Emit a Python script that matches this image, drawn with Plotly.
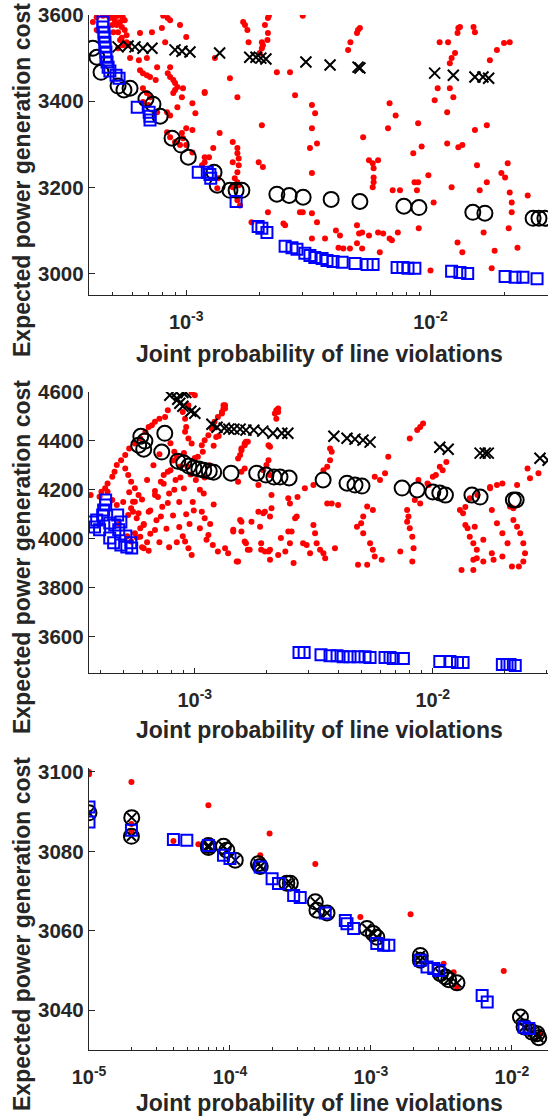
import plotly.graph_objects as go

# ---------------- Panel 1 data ----------------
p1_red_x = [4.56e-4, 4.79e-4, 5.03e-4, 5.26e-4, 5.5e-4, 5.6e-4, 5.36e-4, 5.2e-4, 5.45e-4, 5.6e-4, 5.26e-4, 5.7e-4,
            5.45e-4, 5.7e-4, 5.5e-4, 5.26e-4, 5.78e-4, 4.87e-4, 4.98e-4, 5.1e-4, 5.03e-4, 5.36e-4, 4.3e-4, 4.15e-4, 4.3e-4,
            8.05e-4, 8.4e-4, 8.59e-4, 7.95e-4, 9.43e-4, 7.24e-4, 6.47e-4, 1.0e-3, 8.2e-4, 5.89e-4, 6.4e-4, 6.9e-4,
            7.6e-4, 6.47e-4, 6.65e-4, 6.9e-4, 7.11e-4, 7.5e-4, 8.59e-4, 8.4e-4, 8.59e-4, 8.85e-4, 9.0e-4, 9.2e-4,
            9.0e-4, 8.85e-4, 9.7e-4, 9.6e-4, 6.65e-4, 6.9e-4, 7.11e-4, 6.65e-4, 7.0e-4, 7.6e-4, 8.35e-4, 8.59e-4,
            9.2e-4, 1.06e-3, 1.09e-3, 1.19e-3, 1.51e-3, 1.62e-3, 1.37e-3, 1.55e-3, 1.62e-3, 1.62e-3, 1.64e-3, 1.55e-3,
            1.64e-3, 1.62e-3, 1.58e-3, 1.64e-3, 1.62e-3, 1.66e-3, 1.0e-3, 1.06e-3, 9.6e-4, 9.7e-4, 1.0e-3, 1.06e-3,
            1.29e-3, 1.24e-3, 1.19e-3, 1.16e-3, 1.35e-3, 1.34e-3, 1.85e-3, 8.35e-4, 8.59e-4, 9.0e-4, 9.43e-4,
            1.19e-3, 1.31e-3, 1.19e-3, 1.62e-3, 1.55e-3, 1.71e-3, 1.74e-3, 1.78e-3, 1.8e-3, 2.04e-3, 2.06e-3, 2.04e-3,
            2.0e-3, 2.15e-3, 2.18e-3, 2.16e-3, 2.1e-3, 2.16e-3, 2.35e-3, 2.66e-3, 2.04e-3, 1.98e-3, 2.06e-3, 2.16e-3,
            2.5e-3, 2.54e-3, 3.0e-3, 2.79e-3, 3.27e-3, 3.37e-3, 3.27e-3, 3.43e-3, 3.21e-3, 3.27e-3, 2.92e-3, 3.0e-3,
            3.27e-3, 3.43e-3, 3.27e-3, 3.7e-3, 4.1e-3, 4.26e-3, 4.4e-3, 4.2e-3, 4.68e-3, 5.0e-3, 5.1e-3, 5.25e-3,
            4.6e-3, 4.7e-3, 5.0e-3, 5.05e-3, 5.14e-3, 5.3e-3, 5.6e-3, 5.8e-3, 5.85e-3, 5.85e-3, 5.85e-3, 5.8e-3,
            6.1e-3, 5.0e-3, 5.25e-3, 5.6e-3, 6.1e-3, 6.4e-3, 6.8e-3, 6.95e-3, 6.2e-3, 6.8e-3, 7.2e-3, 6.7e-3, 7.0e-3,
            7.5e-3, 7.35e-3, 8.6e-3, 8.9e-3, 8.8e-3, 8.95e-3, 8.9e-3, 9.2e-3, 8.5e-3, 9.8e-3, 1.03e-2, 1.0e-2,
            1.04e-2, 1.07e-2, 1.2e-2, 1.24e-2, 1.17e-2, 1.17e-2, 1.3e-2, 1.35e-2, 1.09e-2, 1.18e-2, 1.2e-2, 1.22e-2,
            1.26e-2, 1.29e-2, 1.3e-2, 1.32e-2, 1.5e-2, 1.52e-2, 1.52e-2, 1.55e-2, 1.22e-2, 1.29e-2, 1.35e-2, 1.59e-2,
            1.7e-2, 1.7e-2, 1.75e-2, 1.65e-2, 1.83e-2, 1.78e-2, 1.87e-2, 2.0e-2, 2.11e-2, 1.95e-2, 2.02e-2, 2.07e-2,
            2.11e-2, 2.15e-2, 2.15e-2, 2.09e-2, 2.27e-2, 2.5e-2]
p1_red_y = [3598, 3598, 3597, 3598, 3595, 3588, 3584, 3577, 3572, 3565, 3560, 3553,
            3547, 3537, 3530, 3523, 3530, 3593, 3577, 3588, 3560, 3542, 3595, 3584, 3565,
            3598, 3593, 3588, 3570, 3577, 3560, 3558, 3549, 3537, 3500, 3495, 3500,
            3479, 3472, 3465, 3460, 3456, 3449, 3479, 3465, 3456, 3449, 3442, 3433,
            3426, 3419, 3430, 3409, 3430, 3419, 3409, 3398, 3391, 3374, 3374, 3367,
            3386, 3395, 3372, 3419, 3453, 3409, 3326, 3305, 3291, 3279, 3267, 3258,
            3251, 3235, 3221, 3205, 3170, 3158, 3337, 3333, 3326, 3314, 3298, 3281,
            3291, 3270, 3258, 3251, 3221, 3198, 3119, 3328, 3316, 3305, 3298,
            3421, 3500, 3270, 3212, 3200, 3584, 3577, 3565, 3537, 3537, 3530, 3523,
            3512, 3542, 3598, 3593, 3577, 3558, 3467, 3467, 3344, 3258, 3247, 3142,
            3116, 3112, 3598, 3414, 3391, 3372, 3337, 3302, 3291, 3233, 3142, 3142,
            3140, 3119, 3081, 3081, 3100, 3088, 3058, 3060, 3058, 3070, 3093, 3058,
            3519, 3537, 3558, 3565, 3570, 3316, 3263, 3256, 3244, 3223, 3212, 3200,
            3263, 3112, 3095, 3088, 3095, 3093, 3081, 3077, 3049, 3395, 3367, 3337, 3193,
            3193, 3095, 3212, 3212, 3193, 3105, 3349, 3295, 3279, 3228, 3165, 3007,
            3402, 3430, 3430, 3409, 3374, 3302, 3293, 3298, 3537, 3537, 3488, 3500,
            3512, 3558, 3570, 3572, 3572, 3560, 3333, 3251, 3200, 3072, 3049, 3193,
            3212, 3344, 3495, 3095, 3053, 3012, 3519, 3535, 3537, 3233, 3223, 3256,
            3188, 3165, 3142, 3105, 3060, 3181]

p1_circ_x = [4.15e-4, 4.31e-4, 4.48e-4, 5.26e-4, 5.56e-4, 5.89e-4, 6.84e-4, 7.31e-4, 7.82e-4, 8.75e-4, 9.53e-4,
             1.02e-3, 1.30e-3, 1.34e-3, 1.51e-3, 1.60e-3, 1.69e-3, 2.35e-3, 2.64e-3, 3.01e-3, 3.92e-3, 5.14e-3,
             7.78e-3, 8.97e-3, 1.49e-2, 1.67e-2, 2.63e-2, 2.78e-2, 2.94e-2]
p1_circ_y = [3523, 3502, 3467, 3435, 3426, 3430, 3405, 3393, 3365, 3314, 3298,
             3270, 3235, 3205, 3193, 3193, 3193, 3184, 3181, 3177, 3172, 3167,
             3156, 3153, 3142, 3140, 3128, 3128, 3128]

p1_cross_x = [5.26e-4, 5.78e-4, 6.17e-4, 6.65e-4, 7.24e-4, 9.00e-4, 9.61e-4, 1.036e-3, 1.37e-3, 1.82e-3, 1.93e-3,
              2.02e-3, 2.12e-3, 3.09e-3, 3.88e-3, 5.05e-3, 5.14e-3, 1.04e-2, 1.24e-2, 1.52e-2, 1.64e-2, 1.73e-2]
p1_cross_y = [3526, 3528, 3526, 3523, 3523, 3519, 3516, 3514, 3512, 3502, 3502,
              3500, 3498, 3491, 3484, 3479, 3477, 3465, 3460, 3456, 3456, 3453]

p1_sq_x = [4.56e-4, 4.56e-4, 4.61e-4, 4.61e-4, 4.65e-4, 4.65e-4, 4.69e-4, 4.69e-4, 4.74e-4, 4.79e-4, 4.87e-4,
           5.16e-4, 5.31e-4, 6.30e-4, 7.05e-4, 7.11e-4, 7.11e-4, 1.12e-3, 1.22e-3, 1.25e-3, 1.26e-3, 1.60e-3,
           1.97e-3, 2.04e-3, 2.14e-3, 2.54e-3, 2.71e-3, 2.84e-3, 3.06e-3, 3.21e-3, 3.36e-3, 3.60e-3, 3.77e-3,
           3.99e-3, 4.35e-3, 4.91e-3, 5.50e-3, 5.82e-3, 7.30e-3, 7.71e-3, 8.09e-3, 8.63e-3, 1.22e-2, 1.32e-2,
           1.42e-2, 2.02e-2, 2.22e-2, 2.39e-2, 2.73e-2]
p1_sq_y = [3584, 3572, 3560, 3549, 3537, 3526, 3514, 3502, 3491, 3479, 3470,
           3460, 3453, 3386, 3374, 3365, 3356, 3235, 3235, 3230, 3221, 3167,
           3109, 3105, 3095, 3063, 3060, 3056, 3047, 3042, 3037, 3035, 3030,
           3028, 3026, 3023, 3021, 3021, 3014, 3014, 3012, 3012, 3005, 3002,
           3000, 2993, 2991, 2991, 2988]

# ---------------- Panel 2 data ----------------
p2_red_x = [9.7e-4, 1.0e-3, 9.4e-4, 8.9e-4, 9.1e-4, 9.2e-4, 9.1e-4, 9.4e-4, 9.7e-4, 7.7e-4, 7.5e-4, 7.1e-4,
            6.8e-4, 6.6e-4, 6.4e-4, 6.2e-4, 5.9e-4, 5.6e-4, 5.3e-4, 5.1e-4, 4.9e-4, 4.7e-4, 4.6e-4, 4.5e-4,
            4.3e-4, 4.2e-4, 4.05e-4, 1.32e-3, 1.34e-3, 1.30e-3, 1.25e-3, 1.21e-3, 1.18e-3, 1.14e-3, 1.10e-3,
            1.07e-3, 1.08e-3, 1.03e-3, 1.0e-3, 9.3e-4, 9.6e-4, 8.7e-4, 9.0e-4, 8.2e-4, 8.6e-4, 7.7e-4, 8.1e-4,
            7.2e-4, 7.6e-4, 6.8e-4, 7.1e-4, 6.3e-4, 9.0e-4, 8.4e-4, 8.7e-4, 7.9e-4, 8.3e-4, 7.4e-4, 7.8e-4,
            7.0e-4, 7.3e-4, 6.5e-4, 6.9e-4, 6.1e-4, 6.5e-4, 5.7e-4, 6.0e-4, 5.1e-4, 5.25e-4, 5.4e-4, 5.6e-4,
            5.8e-4, 5.6e-4, 5.4e-4, 5.25e-4, 5.7e-4, 6.1e-4, 6.4e-4, 6.8e-4, 7.2e-4, 7.7e-4, 8.2e-4, 1.01e-3,
            1.05e-3, 1.09e-3, 9.8e-4, 9.9e-4, 9.2e-4, 9.5e-4, 8.6e-4, 8.9e-4, 9.1e-4, 9.4e-4, 9.7e-4, 1.07e-3,
            1.10e-3, 1.05e-3, 1.14e-3, 1.19e-3, 1.25e-3, 1.34e-3, 1.45e-3, 1.57e-3, 1.73e-3, 1.85e-3, 1.97e-3,
            2.1e-3, 2.1e-3, 1.85e-3, 1.52e-3, 1.57e-3, 1.62e-3, 1.67e-3, 2.04e-3, 2.07e-3, 2.2e-3, 2.24e-3,
            1.5e-3, 1.38e-3, 1.62e-3, 1.67e-3, 1.9e-3, 2.07e-3, 2.24e-3, 2.3e-3, 2.4e-3, 1.52e-3, 1.57e-3,
            1.62e-3, 3.65e-4, 3.98e-4, 4.3e-4, 4.5e-4, 4.7e-4, 5.5e-4, 5.8e-4, 5.9e-4, 5.6e-4, 5.9e-4, 6.1e-4,
            5.4e-4, 1.34e-3, 1.32e-3, 1.30e-3, 1.23e-3, 1.55e-3, 1.57e-3, 1.62e-3, 1.64e-3, 1.45e-3, 1.55e-3,
            1.57e-3, 1.64e-3, 1.70e-3, 1.52e-3, 2.2e-3, 2.24e-3, 2.17e-3, 2.07e-3, 2.04e-3, 2.0e-3, 1.94e-3,
            1.94e-3, 2.07e-3, 1.88e-3, 1.9e-3, 1.97e-3, 2.04e-3, 2.07e-3, 2.47e-3, 2.51e-3, 2.68e-3, 2.64e-3,
            2.47e-3, 2.55e-3, 2.6e-3, 2.51e-3, 2.9e-3, 3.15e-3, 3.47e-3, 3.6e-3, 3.7e-3, 3.76e-3, 3.7e-3,
            3.15e-3, 3.2e-3, 3.25e-3, 3.36e-3, 3.47e-3, 3.53e-3, 3.88e-3, 3.6e-3, 3.76e-3, 4.0e-3, 2.85e-3,
            2.95e-3, 3.05e-3, 8.0e-3, 8.6e-3, 8.85e-3, 9.1e-3, 6.0e-3, 6.3e-3, 6.5e-3, 5.7e-3, 5.3e-3, 5.1e-3,
            5.0e-3, 4.8e-3, 5.1e-3, 5.45e-3, 5.6e-3, 5.7e-3, 6.1e-3, 4.85e-3, 5.3e-3, 5.6e-3, 7.8e-3, 7.9e-3,
            7.8e-3, 8.0e-3, 8.2e-3, 8.3e-3, 8.2e-3, 7.3e-3, 8.7e-3, 9.5e-3, 1.0e-2, 1.07e-2, 1.14e-2, 8.4e-3,
            8.85e-3, 1.3e-2, 1.34e-2, 1.37e-2, 1.4e-2, 1.43e-2, 1.48e-2, 1.53e-2, 1.53e-2, 1.48e-2, 1.32e-2,
            1.48e-2, 1.63e-2, 1.77e-2, 1.8e-2, 1.86e-2, 1.77e-2, 1.74e-2, 1.86e-2, 1.96e-2, 1.5e-2, 1.63e-2,
            2.5e-2, 2.56e-2, 2.78e-2, 2.11e-2, 2.18e-2, 2.26e-2, 2.33e-2, 2.4e-2, 2.44e-2, 2.4e-2, 2.3e-2,
            2.15e-2, 1.96e-2, 2.06e-2, 1.96e-2, 2.18e-2, 1.10e-2, 1.03e-2, 9.6e-3, 1.74e-2, 1.54e-2, 1.43e-2,
            1.37e-2, 2.26e-2, 2.7e-3,
            5.0e-4, 5.3e-4, 6.3e-4, 6.7e-4, 7.1e-4, 7.9e-4, 5.5e-4, 6.0e-4, 6.8e-4, 7.4e-4, 8.1e-4, 4.8e-4,
            5.2e-4, 6.4e-4, 7.8e-4, 8.4e-4, 1.12e-3, 1.16e-3, 1.2e-3, 1.1e-3, 1.15e-3, 1.2e-3, 1.26e-3]
p2_red_y = [4598, 4587, 4546, 4518, 4491, 4457, 4437, 4410, 4389, 4525, 4498, 4491,
            4478, 4464, 4457, 4437, 4410, 4389, 4369, 4342, 4321, 4301, 4274, 4253,
            4226, 4206, 4192, 4546, 4532, 4518, 4498, 4478, 4450, 4423, 4403,
            4382, 4355, 4335, 4330, 4296, 4262, 4250, 4205, 4200, 4150, 4146, 4095,
            4090, 4040, 4035, 3985, 3985, 4350, 4335, 4295, 4280, 4240, 4225, 4185,
            4170, 4130, 4115, 4075, 4060, 4020, 4005, 3965, 4287, 4260, 4233, 4206,
            4178, 4151, 4124, 4097, 4083, 4056, 4110, 4178, 4233, 4274, 4355, 4240,
            4200, 4185, 4150, 4115, 4100, 4060, 4048, 4010, 3988, 3961, 3933, 4110,
            4083, 4042, 4015, 3974, 3947, 3961, 4029, 4069, 4069, 4110, 4110,
            4124, 4178, 4219, 4328, 4369, 4389, 4396, 4382, 4260, 4491, 4518,
            3906, 3940, 3988, 3954, 3954, 3954, 3933, 4002, 3947, 4233, 4274,
            4287, 4178, 4171, 4192, 4158, 4138, 4151, 4104, 4042, 4022, 4008, 3961,
            3988, 4546, 4532, 4512, 4416, 4342, 4362, 4382, 4396, 4036, 4076,
            4029, 3981, 3954, 3906, 4525, 4532, 4512, 4376, 4321, 4301, 4280,
            4104, 4090, 4049, 3981, 3947, 3947, 3913, 4165, 4144, 4090, 4083,
            4029, 4029, 3900, 3981, 4206, 4219, 4280, 4294, 4321, 4355, 4369,
            4056, 4022, 3981, 3954, 3940, 3920, 3961, 4144, 4144, 4138, 3981,
            3974, 3940, 4410, 4444, 4457, 4471, 4240, 4267, 4335, 4253, 4131, 4090,
            4063, 4049, 4022, 3981, 3954, 3927, 3913, 3893, 3893, 4117, 4117, 4090,
            4069, 4042, 4008, 3961, 3906, 3947, 4240, 4226, 4253, 4294, 4314, 4158,
            4144, 4117, 4104, 4056, 4042, 4008, 3981, 3954, 3920, 3913, 3872,
            3872, 3906, 3940, 3913, 4063, 4117, 4206, 4219, 4226, 4049, 3995,
            4287, 4247, 4267, 4131, 4076, 4049, 4022, 3981, 3940, 3906, 3886,
            3886, 3927, 3981, 4022, 4124, 4280, 4260, 4219, 4211, 4178, 4165,
            4129, 4219, 4170,
            4150, 4190, 4240, 4300, 4345, 4390, 4110, 4160, 4195, 4260, 4320, 4060,
            4010, 3950, 3965, 3985, 3995, 4060, 4140, 4250, 4300, 4380, 4420]

p2_circ_x = [5.93e-4, 5.81e-4, 6.17e-4, 6.10e-4, 7.48e-4, 7.26e-4, 8.48e-4, 8.99e-4, 9.44e-4, 9.90e-4, 1.04e-3,
             1.09e-3, 1.15e-3, 1.20e-3, 1.42e-3, 1.82e-3, 1.99e-3, 2.15e-3, 2.28e-3, 2.49e-3, 3.46e-3, 4.36e-3,
             4.71e-3, 5.04e-3, 7.43e-3, 8.60e-3, 1.00e-2, 1.07e-2, 1.13e-2, 1.46e-2, 1.58e-2, 2.18e-2, 2.24e-2]
p2_circ_y = [4419, 4382, 4399, 4366, 4431, 4354, 4317, 4309, 4297, 4289, 4285,
             4280, 4276, 4272, 4268, 4268, 4260, 4252, 4252, 4248, 4240, 4227,
             4219, 4215, 4207, 4199, 4191, 4187, 4178, 4178, 4170, 4158, 4158]

p2_cross_x = [7.85e-4, 8.39e-4, 8.91e-4, 9.17e-4, 8.48e-4, 8.65e-4, 8.91e-4, 9.62e-4, 1.0e-3, 1.18e-3, 1.24e-3,
              1.33e-3, 1.39e-3, 1.46e-3, 1.55e-3, 1.64e-3, 1.77e-3, 1.93e-3, 2.13e-3, 2.32e-3, 2.46e-3, 3.84e-3,
              4.36e-3, 4.71e-3, 5.09e-3, 5.45e-3, 1.07e-2, 1.16e-2, 1.58e-2, 1.66e-2, 1.71e-2, 2.82e-2, 3.05e-2]
p2_cross_y = [4587, 4598, 4598, 4598, 4570, 4554, 4542, 4521, 4513, 4468, 4456,
              4452, 4448, 4448, 4448, 4444, 4444, 4440, 4431, 4431, 4431, 4419,
              4411, 4407, 4403, 4395, 4374, 4366, 4350, 4350, 4350, 4329, 4321]

p2_sq_x = [4.22e-4, 4.22e-4, 4.14e-4, 4.10e-4, 3.87e-4, 3.72e-4, 3.79e-4, 3.98e-4, 4.39e-4, 4.61e-4, 4.89e-4,
           4.79e-4, 5.13e-4, 4.39e-4, 4.56e-4, 4.89e-4, 5.18e-4, 5.38e-4, 5.43e-4, 4.74e-4,
           2.74e-3, 2.88e-3, 3.39e-3, 3.70e-3, 3.96e-3, 4.20e-3, 4.49e-3, 4.85e-3, 5.19e-3, 5.45e-3, 6.30e-3,
           6.61e-3, 6.82e-3, 7.52e-3, 1.07e-2, 1.18e-2, 1.27e-2, 1.34e-2, 1.96e-2, 2.05e-2, 2.11e-2, 2.22e-2]
p2_sq_y = [4158, 4138, 4117, 4097, 4076, 4068, 4048, 4036, 4064, 4056, 4068,
           4036, 4011, 4003, 3983, 3974, 3966, 3983, 3962, 4097,
           3534, 3534, 3525, 3521, 3521, 3517, 3517, 3517, 3517, 3513, 3513,
           3513, 3509, 3509, 3497, 3497, 3493, 3493, 3485, 3485, 3485, 3481]

# ---------------- Panel 3 data ----------------
p3_red_x = [1.0e-5, 1.0e-5, 2.0e-5, 7.03e-5, 1.91e-4, 4.03e-4, 8.41e-4, 1.91e-3, 8.75e-3, 3.97e-5, 5.97e-5,
            1.64e-4, 3.28e-3, 3.86e-3, 1.0e-5, 2.0e-5, 2.0e-5, 4.08e-3, 1.59e-2]
p3_red_y = [3100.0, 3099.4, 3097.5, 3091.6, 3084.5, 3076.8, 3063.5, 3064.2, 3049.9, 3082.6, 3081.8,
            3079.0, 3051.7, 3049.6, 3089.7, 3086.9, 3085.0, 3045.8, 3034.1]

p3_circ_x = [1.0e-5, 2.01e-5, 2.0e-5, 7.03e-5, 7.03e-5, 9.0e-5, 9.5e-5, 1.09e-4, 1.59e-4, 1.64e-4, 2.53e-4,
             2.68e-4, 4.03e-4, 4.14e-4, 4.88e-4, 9.37e-4, 1.04e-3, 1.10e-3, 2.24e-3, 2.24e-3, 3.11e-3, 3.38e-3,
             3.56e-3, 4.08e-3, 1.15e-2, 1.22e-2, 1.39e-2, 1.51e-2, 1.55e-2]
p3_circ_y = [3089.7, 3088.5, 3083.8, 3081.5, 3081.0, 3081.3, 3080.3, 3077.8, 3076.9, 3076.2, 3072.0,
             3072.0, 3067.3, 3065.2, 3064.5, 3060.6, 3059.3, 3058.4, 3053.8, 3052.6, 3049.2, 3048.4,
             3047.7, 3046.9, 3038.3, 3035.8, 3034.5, 3034.1, 3033.1]

p3_cross_x = list(p3_circ_x)
p3_cross_y = list(p3_circ_y)

p3_sq_x = [1.0e-5, 1.0e-5, 2.0e-5, 3.97e-5, 4.94e-5, 7.03e-5, 9.0e-5, 1.0e-4, 1.64e-4, 1.99e-4, 2.21e-4,
           2.83e-4, 3.15e-4, 4.74e-4, 6.58e-4, 6.76e-4, 7.54e-4, 1.10e-3, 1.23e-3, 1.34e-3, 2.24e-3, 2.50e-3,
           2.79e-3, 3.03e-3, 6.15e-3, 6.68e-3, 1.22e-2, 1.32e-2]
p3_sq_y = [3091.2, 3087.4, 3085.3, 3083.0, 3082.8, 3081.5, 3079.0, 3078.2, 3076.1, 3073.1, 3071.9,
           3068.9, 3068.4, 3064.5, 3062.6, 3061.8, 3060.6, 3056.8, 3056.4, 3056.4, 3052.6, 3050.9,
           3050.5, 3050.0, 3043.7, 3042.1, 3035.8, 3035.4]

# ---------------- Axis ticks ----------------
p12_xticks = [1e-3, 1e-2]
p12_xticktext = ["10<sup>-3</sup>", "10<sup>-2</sup>"]
p12_xminor = [4e-4, 5e-4, 6e-4, 7e-4, 8e-4, 9e-4, 2e-3, 3e-3, 4e-3, 5e-3, 6e-3, 7e-3, 8e-3, 9e-3, 2e-2, 3e-2]
p3_xticks = [1e-5, 1e-4, 1e-3, 1e-2]
p3_xticktext = ["10<sup>-5</sup>", "10<sup>-4</sup>", "10<sup>-3</sup>", "10<sup>-2</sup>"]
p3_xminor = [2e-5, 3e-5, 4e-5, 5e-5, 6e-5, 7e-5, 8e-5, 9e-5, 2e-4, 3e-4, 4e-4, 5e-4, 6e-4, 7e-4, 8e-4, 9e-4,
             2e-3, 3e-3, 4e-3, 5e-3, 6e-3, 7e-3, 8e-3, 9e-3]
p1_yticks = [3000, 3200, 3400, 3600]
p2_yticks = [3600, 3800, 4000, 4200, 4400, 4600]
p3_yticks = [3040, 3060, 3080, 3100]

XLABEL = "Joint probability of line violations"
YLABEL = "Expected power generation cost"

FONT = "Liberation Sans, Arial, Helvetica, sans-serif"
AX = "#262626"

fig = go.Figure()

panels = [
    (1, p1_red_x, p1_red_y, p1_circ_x, p1_circ_y, p1_cross_x, p1_cross_y, p1_sq_x, p1_sq_y),
    (2, p2_red_x, p2_red_y, p2_circ_x, p2_circ_y, p2_cross_x, p2_cross_y, p2_sq_x, p2_sq_y),
    (3, p3_red_x, p3_red_y, p3_circ_x, p3_circ_y, p3_cross_x, p3_cross_y, p3_sq_x, p3_sq_y),
]
for (k, rx, ry, cx, cy, xx, xy, sx, sy) in panels:
    xa = "x" if k == 1 else "x%d" % k
    ya = "y" if k == 1 else "y%d" % k
    fig.add_trace(go.Scatter(x=rx, y=ry, mode="markers", xaxis=xa, yaxis=ya,
                             marker=dict(symbol="circle", size=6, color="#ff0000", line=dict(width=0))))
    fig.add_trace(go.Scatter(x=cx, y=cy, mode="markers", xaxis=xa, yaxis=ya,
                             marker=dict(symbol="circle-open", size=15, color="#000000", line=dict(width=2))))
    csize = 11 if k < 3 else 9
    fig.add_trace(go.Scatter(x=xx, y=xy, mode="markers", xaxis=xa, yaxis=ya,
                             marker=dict(symbol="x-thin-open", size=csize, color="#000000", line=dict(width=2))))
    fig.add_trace(go.Scatter(x=sx, y=sy, mode="markers", xaxis=xa, yaxis=ya,
                             marker=dict(symbol="square-open", size=11, color="#0000ff", line=dict(width=2))))

def xaxis_cfg(rng, tv, tt, minor, anchor):
    return dict(type="log", range=rng, domain=[0, 1], anchor=anchor, automargin=False,
                showline=True, linecolor=AX, linewidth=1.3, mirror=False,
                showgrid=False, zeroline=False,
                ticks="inside", ticklen=5, tickwidth=1, tickcolor=AX,
                tickmode="array", tickvals=tv, ticktext=tt, ticklabelstandoff=9,
                tickfont=dict(family=FONT, size=20, color=AX, weight="bold"),
                minor=dict(tickmode="array", tickvals=minor, ticks="inside", ticklen=3,
                           tickwidth=1, tickcolor=AX, showgrid=False))

def yaxis_cfg(rng, tv, dom, anchor):
    return dict(range=rng, domain=dom, anchor=anchor, automargin=False,
                showline=True, linecolor=AX, linewidth=1.3, mirror=False,
                showgrid=False, zeroline=False,
                ticks="inside", ticklen=6, tickwidth=1, tickcolor=AX,
                tickmode="array", tickvals=tv,
                tickfont=dict(family=FONT, size=20.5, color=AX, weight="bold"))

fig.update_layout(
    template="none",
    width=550, height=1120,
    margin=dict(l=89, r=2, t=0, b=0, autoexpand=False),
    paper_bgcolor="white", plot_bgcolor="white",
    showlegend=False,
    xaxis=xaxis_cfg([-3.398, -1.519], p12_xticks, p12_xticktext, p12_xminor, "y"),
    yaxis=yaxis_cfg([2950, 3600], p1_yticks, [0.7366, 0.9866], "x"),
    xaxis2=xaxis_cfg([-3.4446, -1.516], p12_xticks, p12_xticktext, p12_xminor, "y2"),
    yaxis2=yaxis_cfg([3450, 4600], p2_yticks, [0.3991, 0.65], "x2"),
    xaxis3=xaxis_cfg([-5.0, -1.744], p3_xticks, p3_xticktext, p3_xminor, "y3"),
    yaxis3=yaxis_cfg([3030, 3101], p3_yticks, [0.0625, 0.3143], "x3"),
)

H = 1120.0
PW = 459.0
def px2paper_x(px):
    return (px - 89.0) / PW
def py2paper_y(py):
    return (H - py) / H

title_font = dict(family=FONT, size=23, color=AX, weight="bold")
for xc, yc in [(319, 354), (319, 730), (319, 1103)]:
    fig.add_annotation(text=XLABEL, xref="paper", yref="paper",
                       x=px2paper_x(xc), y=py2paper_y(yc), xanchor="center", yanchor="middle",
                       showarrow=False, font=title_font)
for yc in [180, 557, 934]:
    fig.add_annotation(text=YLABEL, xref="paper", yref="paper",
                       x=px2paper_x(22), y=py2paper_y(yc), xanchor="center", yanchor="middle",
                       textangle=-90, showarrow=False, font=title_font)

fig.write_html("out.html", config={"displayModeBar": False, "staticPlot": True},
               post_script="document.body.style.margin='0';document.body.style.overflow='hidden';")
